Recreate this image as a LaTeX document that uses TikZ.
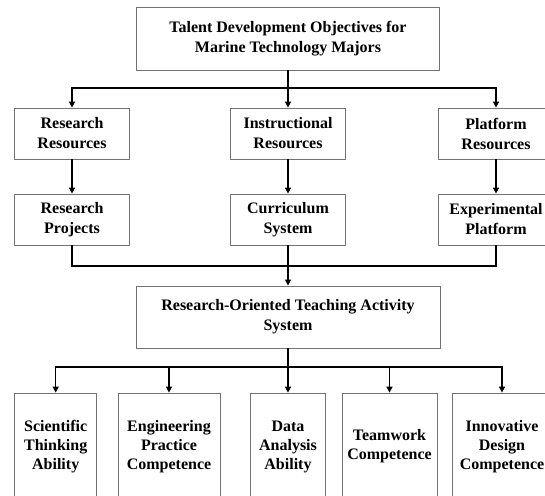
\documentclass[tikz,border=0pt]{standalone}
\usepackage{fontspec}
\setmainfont{Liberation Serif}
\usetikzlibrary{arrows.meta}
\tikzset{
  box/.style={draw=black!55, line width=0.8pt, rectangle, inner sep=0pt, align=center,
    font=\fontsize{16}{20}\selectfont\bfseries},
  tallbox/.style={box, font=\fontsize{16}{19}\selectfont\bfseries},
  link/.style={draw=black, line width=1.5pt},
  arr/.style={link, -{Triangle[length=6pt,width=6pt]}},
}
\begin{document}
\begin{tikzpicture}[x=1pt,y=-1pt]
\useasboundingbox (0,0) rectangle (545,495);
\clip (0,0) rectangle (545,495);
% top
\node[box, minimum width=303pt, minimum height=63pt] (top) at (288,38.5)
  {Talent Development Objectives for\\Marine Technology Majors};
% row 2
\node[box, minimum width=115pt, minimum height=51pt] (rr) at (72,133.5) {Research\\Resources};
\node[box, minimum width=115pt, minimum height=51pt] (ir) at (288,133.5) {Instructional\\Resources};
\node[box, minimum width=115pt, minimum height=51pt] (pr) at (496,133.5) {Platform\\Resources};
% row 3
\node[box, minimum width=115pt, minimum height=51pt] (rp) at (72,219.5) {Research\\Projects};
\node[box, minimum width=115pt, minimum height=51pt] (cs) at (288,219.5) {Curriculum\\System};
\node[box, minimum width=115pt, minimum height=51pt] (ep) at (496,219.5) {Experimental\\Platform};
% research-oriented
\node[box, minimum width=304pt, minimum height=62pt] (ro) at (288,317)
  {Research-Oriented Teaching Activity\\System};
% bottom row
\node[tallbox, minimum width=82pt, minimum height=107pt] (b1) at (55.7,446.5) {Scientific\\Thinking\\Ability};
\node[tallbox, minimum width=102pt, minimum height=107pt] (b2) at (169,446.5) {Engineering\\Practice\\Competence};
\node[tallbox, minimum width=75pt, minimum height=107pt] (b3) at (288,446.5) {Data\\Analysis\\Ability};
\node[tallbox, minimum width=95pt, minimum height=107pt] (b4) at (389.5,446.5) {Teamwork\\Competence};
\node[tallbox, minimum width=100pt, minimum height=107pt] (b5) at (502,446.5) {Innovative\\Design\\Competence};
% connectors
\coordinate (j1) at (288,88);
\draw[link] (top.south) -- (j1);
\draw[arr] (j1) -| (rr.north);
\draw[arr] (j1) -| (pr.north);
\draw[arr] (j1) -- (ir.north);
\draw[arr] (rr.south) -- (rp.north);
\draw[arr] (ir.south) -- (cs.north);
\draw[arr] (pr.south) -- (ep.north);
\coordinate (j2) at (288,266);
\draw[link] (rp.south) |- (j2);
\draw[link] (ep.south) |- (j2);
\draw[arr] (cs.south) -- (ro.north);
\coordinate (j3) at (288,367);
\draw[link] (ro.south) -- (j3);
\draw[arr] (j3) -| (b1.north);
\draw[arr] (j3) -| (b2.north);
\draw[arr] (j3) -- (b3.north);
\draw[arr] (j3) -| (b4.north);
\draw[arr] (j3) -| (b5.north);
\end{tikzpicture}
\end{document}
